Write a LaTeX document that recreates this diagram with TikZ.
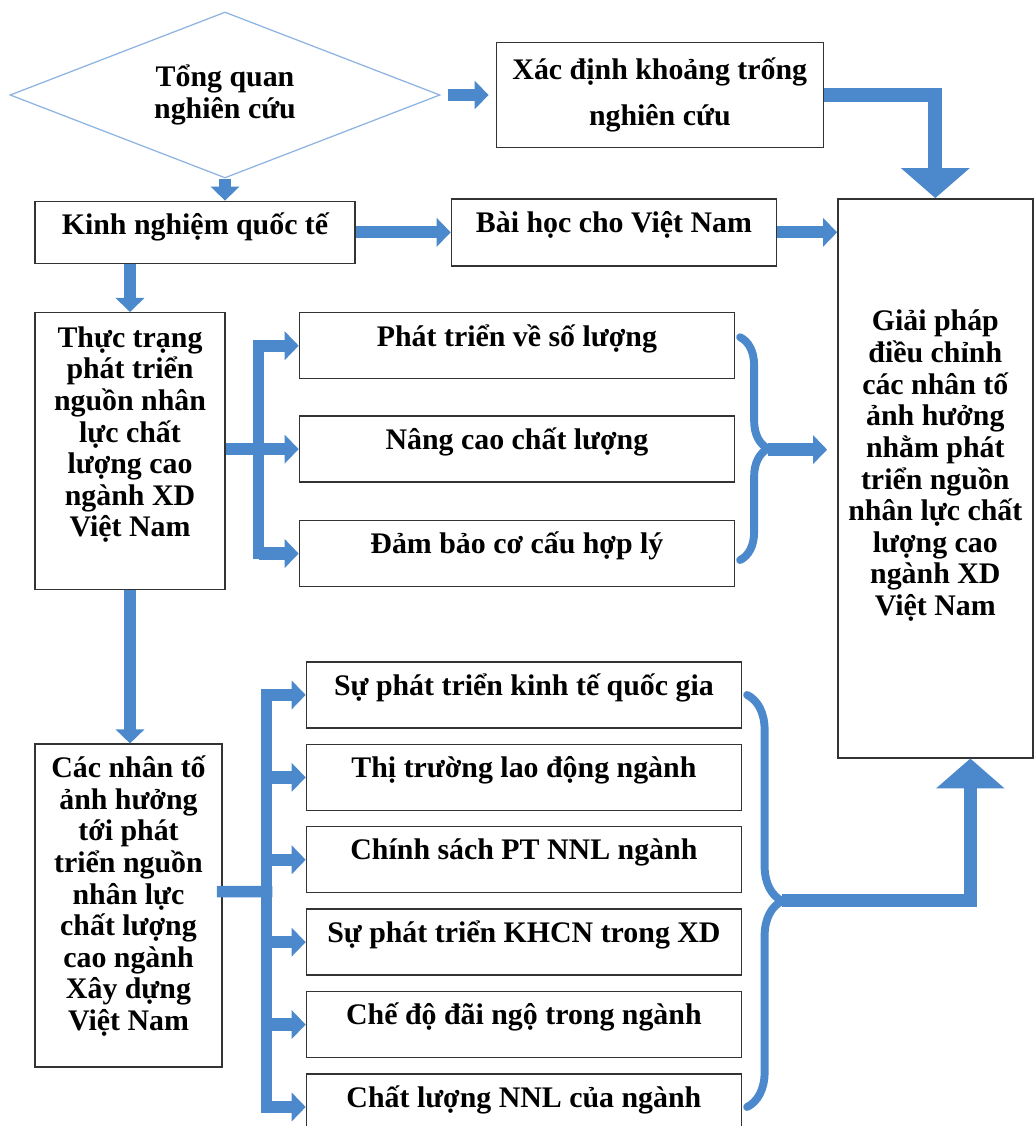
\documentclass[tikz,border=0pt]{standalone}
\usepackage{fontspec}
\setmainfont{Liberation Serif}
\usepackage{tikz}
\usetikzlibrary{arrows.meta,positioning,shapes.geometric,calc,decorations.pathreplacing}
\definecolor{flowBlue}{HTML}{4B88CC}
\definecolor{edgeBlue}{HTML}{8DB3E2}
\definecolor{boxLine}{HTML}{333333}
\tikzset{
  txt/.style={font=\bfseries\fontsize{17}{18}\selectfont},
  box/.style={rectangle, draw=boxLine, line width=0.8pt, fill=white, align=center, txt},
  item/.style={box, minimum width=8.7cm, minimum height=1.32cm, text depth=0.42cm},
  tall/.style={box, inner sep=2pt},
  decision/.style={diamond, aspect=2.6, draw=edgeBlue, line width=0.7pt, fill=white, align=center, inner sep=0pt, minimum width=8.6cm, minimum height=3.32cm, txt},
  flow/.style={-{Triangle[width=16pt,length=8pt]}, line width=7pt, draw=flowBlue},
  bigflow/.style={-{Triangle[width=38pt,length=17pt]}, line width=8pt, draw=flowBlue},
  spine/.style={line width=6.5pt, draw=flowBlue, line cap=rect},
  curly/.style={decorate, decoration={brace, amplitude=#1}, line width=4.5pt, draw=flowBlue, line cap=round}
}
\begin{document}
\begin{tikzpicture}
\useasboundingbox (0,0) rectangle (20.7,-22.52);
% top row
\node[decision] (review) at (4.5,-1.9) {Tổng quan\\nghiên cứu};
\node[box, minimum width=6.54cm, minimum height=2.1cm, right=1.1cm of review] (gap) {Xác định khoảng trống\\[8pt]nghiên cứu};
\node[box, minimum width=6.4cm, minimum height=1.24cm, text depth=0.36cm, below=0.44cm of review.south, xshift=-0.6cm] (intl) {Kinh nghiệm quốc tế};
\node[box, minimum width=6.5cm, minimum height=1.34cm, text depth=0.42cm, right=1.9cm of intl] (lesson) {Bài học cho Việt Nam};
\node[tall, minimum width=3.9cm, minimum height=11.18cm, text depth=0.62cm, right=1.2cm of lesson.north east, anchor=north west] (solution) {Giải pháp\\điều chỉnh\\các nhân tố\\ảnh hưởng\\nhằm phát\\triển nguồn\\nhân lực chất\\lượng cao\\ngành XD\\Việt Nam};
% current state
\node[tall, minimum width=3.8cm, minimum height=5.54cm, text depth=0.78cm, below=0.96cm of intl.south west, anchor=north west] (status) {Thực trạng\\phát triển\\nguồn nhân\\lực chất\\lượng cao\\ngành XD\\Việt Nam};
\node[item, right=1.46cm of status.north east, anchor=north west] (q1) {Phát triển về số lượng};
\node[item, below=0.72cm of q1] (q2) {Nâng cao chất lượng};
\node[item, below=0.74cm of q2] (q3) {Đảm bảo cơ cấu hợp lý};
% factors
\node[tall, minimum width=3.74cm, minimum height=6.46cm, text depth=0.5cm, below=3.06cm of status.south west, anchor=north west] (factors) {Các nhân tố\\ảnh hưởng\\tới phát\\triển nguồn\\nhân lực\\chất lượng\\cao ngành\\Xây dựng\\Việt Nam};
\node[item, below=1.48cm of q3.south west, anchor=north west, xshift=0.14cm] (f1) {Sự phát triển kinh tế quốc gia};
\node[item, below=0.3cm of f1] (f2) {Thị trường lao động ngành};
\node[item, below=0.3cm of f2] (f3) {Chính sách PT NNL ngành};
\node[item, below=0.3cm of f3] (f4) {Sự phát triển KHCN trong XD};
\node[item, below=0.3cm of f4] (f5) {Chế độ đãi ngộ trong ngành};
\node[item, below=0.3cm of f5] (f6) {Chất lượng NNL của ngành};
% connectors
\draw[flow, shorten <=4pt, shorten >=4pt] (review.east) -- (gap.west);
\draw[flow] (review.south) -- (review.south |- intl.north);
\draw[flow] (intl.east) -- (lesson.west);
\draw[flow] (lesson.east) -- (lesson.east -| solution.west);
\draw[bigflow] (gap.east) -| (solution.north);
\draw[flow] (status.north |- intl.south) -- (status.north);
\draw[flow] (status.south) -- (status.south |- factors.north);
% branch to the three goals
\coordinate (hubA) at ($(status.east)+(0.66,0)$);
\draw[spine] (hubA |- q1.west) -- (hubA |- q3.west);
\foreach \k in {q1,q3} \draw[flow] (hubA |- \k.west) -- (\k.west);
\draw[flow] (status.east |- q2.west) -- (q2.west);
\draw[curly=0.56cm] ($(q1.east)+(0.1,0.17)$) -- ($(q3.east)+(0.1,-0.13)$);
\coordinate (tipA) at ($(q1.east)!0.5!(q3.east)+(0.66,0)$);
\draw[flow, shorten >=0.2cm] (tipA) -- (tipA -| solution.west);
% branch to the six factors
\coordinate (hubB) at ($(factors.east)+(0.88,0.28)$);
\draw[spine] ([yshift=0.28cm]factors.east) -- (hubB);
\draw[spine] (hubB |- f1.west) -- (hubB |- f6.west);
\foreach \k in {f1,f2,f3,f4,f5,f6} \draw[flow] (hubB |- \k.west) -- (\k.west);
\draw[curly=0.7cm] ($(f1.east)+(0.1,0)$) -- ($(f6.east)+(0.1,0)$);
\coordinate (tipB) at ($(f1.east)!0.5!(f6.east)+(0.8,0)$);
\draw[bigflow, line width=7.4pt] (tipB) -| ($(solution.south)+(0.7,0)$);
\end{tikzpicture}
\end{document}
